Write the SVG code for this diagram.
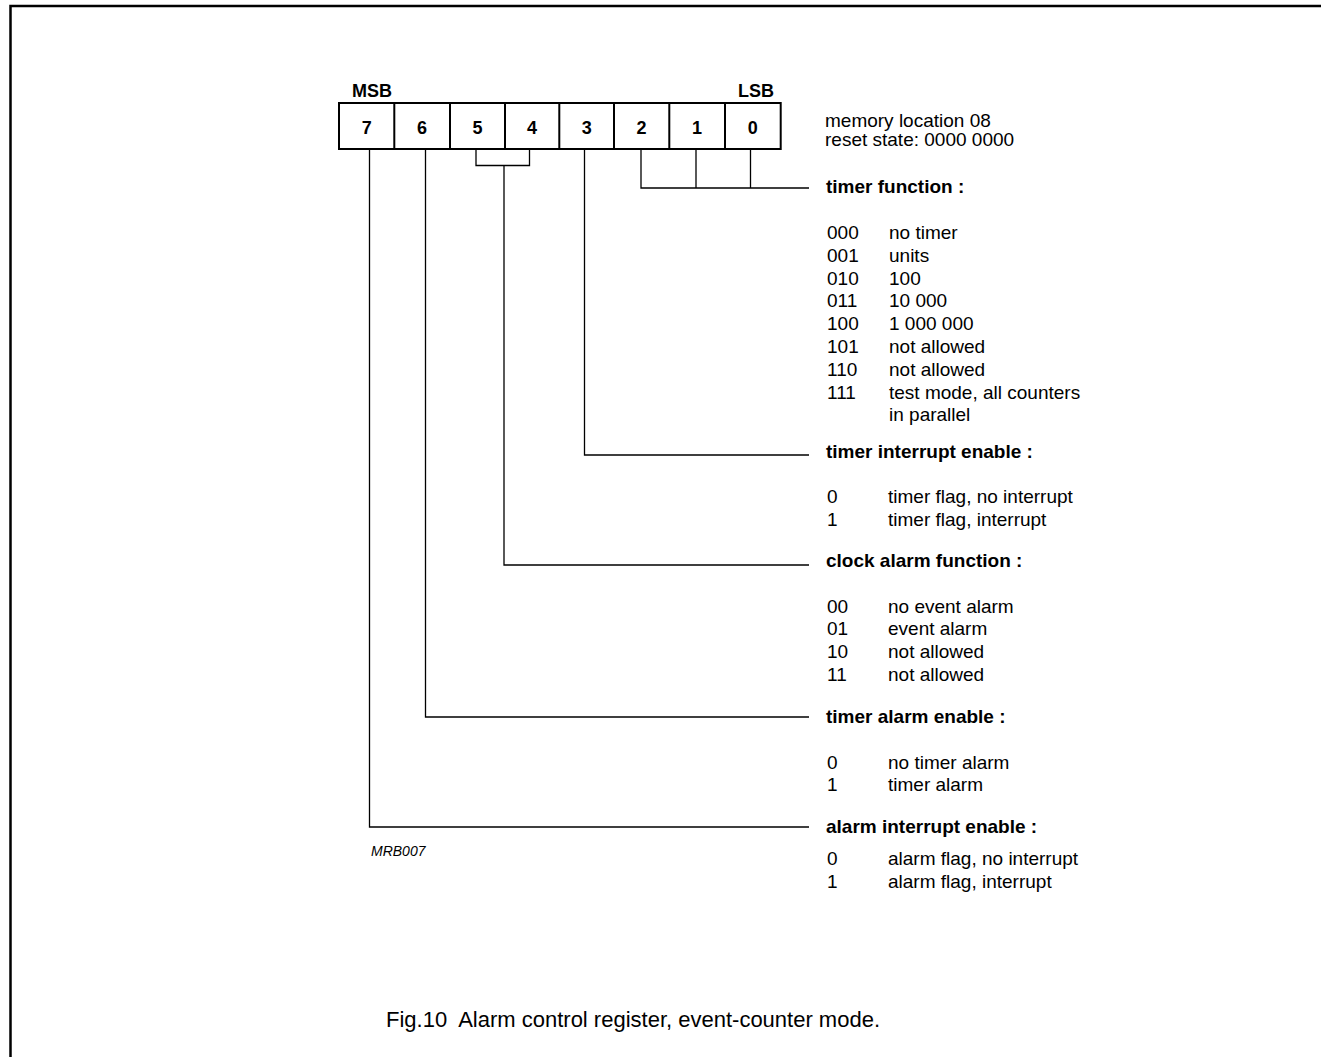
<svg xmlns="http://www.w3.org/2000/svg" width="1321" height="1057" viewBox="0 0 1321 1057">
<style>
text{font-family:"Liberation Sans",Arial,sans-serif;fill:#000}
.b{font-weight:bold;font-size:19px}
.r{font-size:19px}
.d{font-weight:bold;font-size:18px;text-anchor:middle}
.ln{stroke:#000;stroke-width:1.3;fill:none}
.box{stroke:#000;stroke-width:2;fill:#fff}
</style>
<rect width="1321" height="1057" fill="#fff"/>
<g id="frame"><path d="M10.5 1057 V6 H1321" stroke="#000" stroke-width="2.5" fill="none"/></g>
<g id="register">
<text class="b" x="352" y="97" style="font-size:18px">MSB</text>
<text class="b" x="738" y="97" style="font-size:18px">LSB</text>
<rect class="box" x="339" y="103" width="441.7" height="46"/>
<path class="box" d="M394.3 103V149M450 103V149M505 103V149M559.3 103V149M614 103V149M669.3 103V149M725 103V149"/>
<text class="d" x="366.7" y="134">7</text>
<text class="d" x="422.1" y="134">6</text>
<text class="d" x="477.5" y="134">5</text>
<text class="d" x="532.1" y="134">4</text>
<text class="d" x="586.7" y="134">3</text>
<text class="d" x="641.6" y="134">2</text>
<text class="d" x="697.1" y="134">1</text>
<text class="d" x="752.8" y="134">0</text>
</g>
<g id="connectors">
<path class="ln" d="M369.5 149V827H809"/>
<path class="ln" d="M425.5 149V717H809"/>
<path class="ln" d="M476 149V165.5H529.5V149M504 165.5V565H809"/>
<path class="ln" d="M584.5 149V455H809"/>
<path class="ln" d="M641 149V188H809M696 149V188M750.5 149V188"/>
</g>
<g id="memory">
<text class="r" x="825" y="127">memory location 08</text>
<text class="r" x="825" y="146">reset state: 0000 0000</text>
</g>
<g id="timer-function">
<text class="b" x="826" y="193">timer function :</text>
<text class="r" x="827" y="239">000</text><text class="r" x="889" y="239">no timer</text>
<text class="r" x="827" y="262">001</text><text class="r" x="889" y="262">units</text>
<text class="r" x="827" y="284.5">010</text><text class="r" x="889" y="284.5">100</text>
<text class="r" x="827" y="307">011</text><text class="r" x="889" y="307">10 000</text>
<text class="r" x="827" y="330">100</text><text class="r" x="889" y="330">1 000 000</text>
<text class="r" x="827" y="353">101</text><text class="r" x="889" y="353">not allowed</text>
<text class="r" x="827" y="376">110</text><text class="r" x="889" y="376">not allowed</text>
<text class="r" x="827" y="398.5">111</text><text class="r" x="889" y="398.5">test mode, all counters</text>
<text class="r" x="889" y="421">in parallel</text>
</g>
<g id="timer-interrupt-enable">
<text class="b" x="826" y="458">timer interrupt enable :</text>
<text class="r" x="827" y="503">0</text><text class="r" x="888" y="503">timer flag, no interrupt</text>
<text class="r" x="827" y="526">1</text><text class="r" x="888" y="526">timer flag, interrupt</text>
</g>
<g id="clock-alarm-function">
<text class="b" x="826" y="567">clock alarm function :</text>
<text class="r" x="827" y="612.5">00</text><text class="r" x="888" y="612.5">no event alarm</text>
<text class="r" x="827" y="635">01</text><text class="r" x="888" y="635">event alarm</text>
<text class="r" x="827" y="658">10</text><text class="r" x="888" y="658">not allowed</text>
<text class="r" x="827" y="681">11</text><text class="r" x="888" y="681">not allowed</text>
</g>
<g id="timer-alarm-enable">
<text class="b" x="826" y="723">timer alarm enable :</text>
<text class="r" x="827" y="769">0</text><text class="r" x="888" y="769">no timer alarm</text>
<text class="r" x="827" y="791">1</text><text class="r" x="888" y="791">timer alarm</text>
</g>
<g id="alarm-interrupt-enable">
<text class="b" x="826" y="833">alarm interrupt enable :</text>
<text class="r" x="827" y="865">0</text><text class="r" x="888" y="865">alarm flag, no interrupt</text>
<text class="r" x="827" y="888">1</text><text class="r" x="888" y="888">alarm flag, interrupt</text>
</g>
<text x="371" y="856" font-size="14" font-style="italic">MRB007</text>
<text x="386" y="1027" font-size="22" xml:space="preserve">Fig.10  Alarm control register, event-counter mode.</text>
</svg>
